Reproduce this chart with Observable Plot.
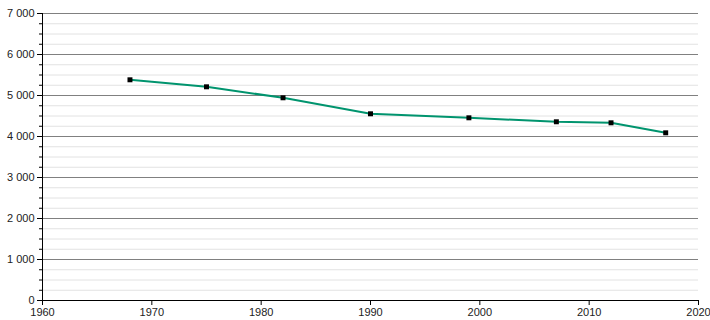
<!DOCTYPE html>
<html>
<head>
<meta charset="utf-8">
<script src="https://cdn.jsdelivr.net/npm/d3@7"></script>
<script src="https://cdn.jsdelivr.net/npm/@observablehq/plot@0.6"></script>
<style>
  html, body { margin: 0; padding: 0; background: white; }
</style>
</head>
<body>
<div id="chart"></div>
<script>
const years = [1968, 1975, 1982, 1990, 1999, 2007, 2012, 2017];
const population = [5383, 5212, 4944, 4554, 4456, 4359, 4334, 4090];
const xTicks = [1960, 1970, 1980, 1990, 2000, 2010, 2020];
const yMajorTicks = [0, 1000, 2000, 3000, 4000, 5000, 6000, 7000];
const yMinorTicks = d3.range(0, 7001, 250).filter(v => v % 1000 !== 0);

const data = years.map((y, i) => ({year: y, value: population[i]}));
const fmt = d3.formatLocale({thousands: " ", grouping: [3], decimal: ",", currency: ["", ""]}).format(",d");

const chart = Plot.plot({
  width: 710,
  height: 320,
  marginLeft: 42,
  marginRight: 12,
  marginTop: 13,
  marginBottom: 20,
  style: {fontFamily: "'Liberation Sans', Arial, sans-serif", fontSize: "11px", background: "white", color: "#222"},
  x: {domain: [1960, 2020]},
  y: {domain: [0, 7000]},
  marks: [
    Plot.ruleY(yMinorTicks, {stroke: "#e2e2e2", strokeWidth: 1}),
    Plot.ruleY(yMajorTicks.filter(v => v > 0), {stroke: "#808080", strokeWidth: 1}),
    Plot.axisY(yMinorTicks, {tickSize: 3, tickFormat: () => "", stroke: "#000", strokeOpacity: 1, label: null}),
    Plot.axisY(yMajorTicks, {tickSize: 5, tickPadding: 3, tickFormat: fmt, stroke: "#000", strokeOpacity: 1, fill: "#222", label: null}),
    Plot.axisX(xTicks, {tickSize: 5, tickPadding: 3, tickFormat: d => String(d), stroke: "#000", strokeOpacity: 1, fill: "#222", label: null}),
    Plot.ruleX([1960], {stroke: "#000", strokeWidth: 1}),
    Plot.ruleY([0], {stroke: "#000", strokeWidth: 1}),
    Plot.line(data, {x: "year", y: "value", stroke: "#00946e", strokeWidth: 2}),
    Plot.dot(data, {x: "year", y: "value", symbol: "square", r: 2.8, fill: "#000", stroke: "none"})
  ]
});
document.getElementById("chart").appendChild(chart);
</script>
</body>
</html>
